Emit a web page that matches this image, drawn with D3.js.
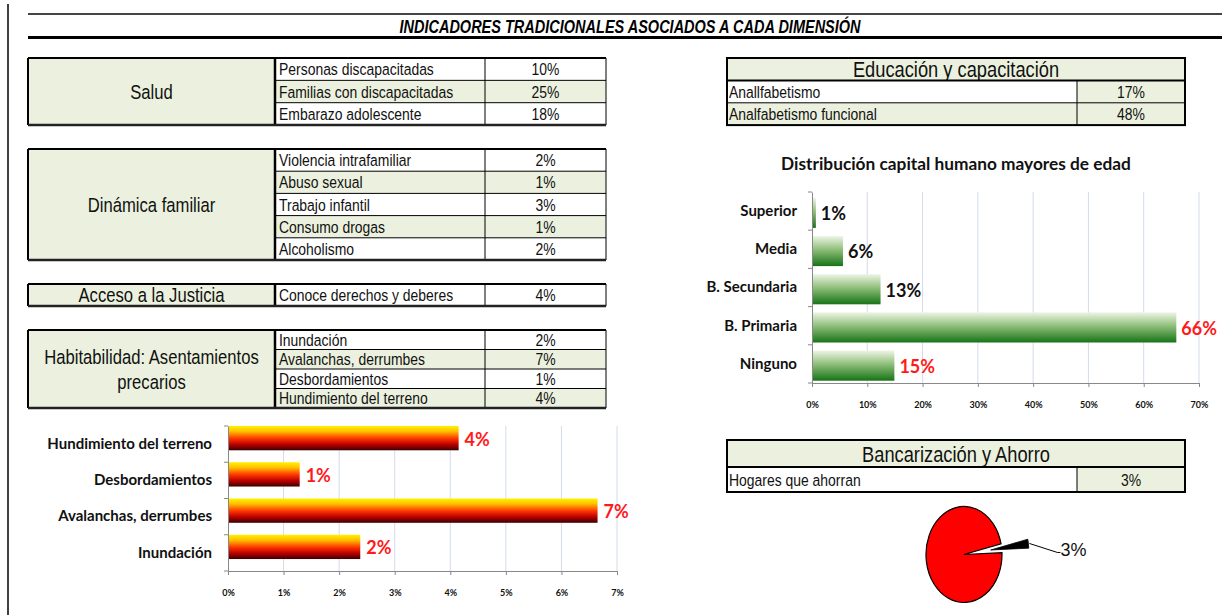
<!DOCTYPE html>
<html>
<head>
<meta charset="utf-8">
<script src="https://cdn.jsdelivr.net/npm/d3@7/dist/d3.min.js"></script>
<style>
  body { margin: 0; background: #fff; }
  svg { display: block; }
  .narrow { font-family: "Liberation Sans", Arial, sans-serif; }
  .cal { font-family: Lato, "Open Sans", sans-serif; }
</style>
</head>
<body>
<svg id="chart" width="1222" height="615"></svg>
<script>
// --- data ---
var title = "INDICADORES TRADICIONALES ASOCIADOS A CADA DIMENSIÓN";

var saludLabels = ["Personas discapacitadas", "Familias con  discapacitadas", "Embarazo adolescente"];
var saludValues = [10, 25, 18];

var dinamicaLabels = ["Violencia intrafamiliar", "Abuso sexual", "Trabajo infantil", "Consumo drogas", "Alcoholismo"];
var dinamicaValues = [2, 1, 3, 1, 2];

var justiciaLabels = ["Conoce derechos y deberes"];
var justiciaValues = [4];

var habitLabels = ["Inundación", "Avalanchas, derrumbes", "Desbordamientos", "Hundimiento del terreno"];
var habitValues = [2, 7, 1, 4];

var educLabels = ["Anallfabetismo", "Analfabetismo funcional"];
var educValues = [17, 48];

var ahorroLabels = ["Hogares que ahorran"];
var ahorroValues = [3];

var riskCategories = ["Hundimiento del terreno", "Desbordamientos", "Avalanchas, derrumbes", "Inundación"];
var riskShares = [0.0415, 0.0129, 0.0665, 0.0238];
var riskText = ["4%", "1%", "7%", "2%"];
var riskTicks = [0, 0.01, 0.02, 0.03, 0.04, 0.05, 0.06, 0.07];

var eduTitle = "Distribución capital humano mayores de edad";
var eduCategories = ["Superior", "Media", "B. Secundaria", "B. Primaria", "Ninguno"];
var eduShares = [0.007, 0.056, 0.124, 0.659, 0.149];
var eduText = ["1%", "6%", "13%", "66%", "15%"];
var eduTicks = [0, 0.1, 0.2, 0.3, 0.4, 0.5, 0.6, 0.7];

var savingParts = [3, 97];

var GREEN = "#ebf1de";
var NARROW = 0.82;   // no Arial Narrow installed, squeeze Liberation Sans instead
var svg = d3.select("#chart");

// condensed text helper
function ntext(g, x, y, str, size, anchor) {
    return g.append("text").attr("class", "narrow")
        .attr("transform", "translate(" + x + "," + y + ") scale(" + NARROW + ",1)")
        .attr("dy", "0.36em")
        .attr("text-anchor", anchor || "start")
        .attr("font-size", size)
        .attr("fill", "#111")
        .text(str);
}

// page frame
svg.append("line").attr("x1", 8).attr("x2", 8).attr("y1", 4).attr("y2", 615)
    .attr("stroke", "#000").attr("stroke-width", 1.5);
svg.append("line").attr("x1", 28).attr("x2", 1222).attr("y1", 14).attr("y2", 14)
    .attr("stroke", "#444").attr("stroke-width", 2);
svg.append("line").attr("x1", 28).attr("x2", 1222).attr("y1", 37.5).attr("y2", 37.5)
    .attr("stroke", "#000").attr("stroke-width", 3);
ntext(svg, 630, 27, title, 17.7, "middle")
    .attr("font-weight", "bold").attr("font-style", "italic").attr("fill", "#000");

/**
 * Left side table: category cell + item rows + value column.
 */
function sideTable(top, rowH, catLines, labels, values) {
    var x0 = 28, x1 = 275, x2 = 485, x3 = 606;
    var g = svg.append("g");
    var h = rowH * labels.length;

    g.append("rect").attr("x", x0).attr("y", top).attr("width", x1 - x0).attr("height", h)
        .attr("fill", GREEN);
    labels.forEach(function(l, i) {
        var y = top + i * rowH;
        g.append("rect").attr("x", x1).attr("y", y)
            .attr("width", x3 - x1).attr("height", rowH)
            .attr("fill", i % 2 ? GREEN : "#fff");
        g.append("line").attr("x1", x1).attr("x2", x3)
            .attr("y1", y).attr("y2", y)
            .attr("stroke", "#000").attr("stroke-width", 1);
        ntext(g, x1 + 4, y + rowH / 2, l, 17);
        ntext(g, (x2 + x3) / 2, y + rowH / 2, values[i] + "%", 17, "middle");
    });
    g.append("line").attr("x1", x2).attr("x2", x2).attr("y1", top).attr("y2", top + h)
        .attr("stroke", "#000").attr("stroke-width", 1);
    g.append("line").attr("x1", x3).attr("x2", x3).attr("y1", top).attr("y2", top + h)
        .attr("stroke", "#000").attr("stroke-width", 1);
    g.append("line").attr("x1", x1).attr("x2", x1).attr("y1", top).attr("y2", top + h)
        .attr("stroke", "#000").attr("stroke-width", 2.5);
    g.append("line").attr("x1", x0).attr("x2", x0).attr("y1", top).attr("y2", top + h)
        .attr("stroke", "#000").attr("stroke-width", 2);
    g.append("line").attr("x1", x0).attr("x2", x3).attr("y1", top).attr("y2", top)
        .attr("stroke", "#000").attr("stroke-width", 2);
    g.append("line").attr("x1", x0).attr("x2", x3).attr("y1", top + h).attr("y2", top + h)
        .attr("stroke", "#222").attr("stroke-width", 2.5);

    var lh = 25;
    var cy = top + h / 2 - (catLines.length - 1) * lh / 2;
    catLines.forEach(function(t, i) {
        ntext(g, (x0 + x1) / 2, cy + i * lh, t, 20.3, "middle");
    });
}

sideTable(58, 22.35, ["Salud"], saludLabels, saludValues);
sideTable(149, 22.2, ["Dinámica familiar"], dinamicaLabels, dinamicaValues);
sideTable(284, 22, ["Acceso a la Justicia"], justiciaLabels, justiciaValues);
sideTable(330, 19.5, ["Habitabilidad: Asentamientos", "precarios"], habitLabels, habitValues);

/**
 * Right side table: header row + item rows, value column always tinted.
 */
function headTable(top, headH, rowH, head, labels, values) {
    var x0 = 727, x2 = 1077, x3 = 1185;
    var g = svg.append("g");
    var h = headH + rowH * labels.length;
    g.append("rect").attr("x", x0).attr("y", top).attr("width", x3 - x0).attr("height", headH)
        .attr("fill", GREEN);
    ntext(g, (x0 + x3) / 2, top + headH / 2, head, 22.3, "middle");
    labels.forEach(function(l, i) {
        var y = top + headH + i * rowH;
        g.append("rect").attr("x", x0).attr("y", y).attr("width", x2 - x0).attr("height", rowH)
            .attr("fill", i % 2 ? GREEN : "#fff");
        g.append("rect").attr("x", x2).attr("y", y).attr("width", x3 - x2).attr("height", rowH)
            .attr("fill", GREEN);
        g.append("line").attr("x1", x0).attr("x2", x3).attr("y1", y).attr("y2", y)
            .attr("stroke", "#000").attr("stroke-width", i == 0 ? 2 : 1);
        ntext(g, x0 + 2, y + rowH / 2, l, 17);
        ntext(g, (x2 + x3) / 2, y + rowH / 2, values[i] + "%", 17, "middle");
    });
    g.append("line").attr("x1", x2).attr("x2", x2).attr("y1", top + headH).attr("y2", top + h)
        .attr("stroke", "#000").attr("stroke-width", 1);
    g.append("rect").attr("x", x0).attr("y", top).attr("width", x3 - x0).attr("height", h)
        .attr("fill", "none").attr("stroke", "#000").attr("stroke-width", 2);
}

headTable(58, 22.5, 22.3, "Educación y capacitación", educLabels, educValues);
headTable(440, 27, 25, "Bancarización y Ahorro", ahorroLabels, ahorroValues);

// gradients
var defs = svg.append("defs");
var fire = defs.append("linearGradient").attr("id", "fire").attr("x1", 0).attr("x2", 0).attr("y1", 0).attr("y2", 1);
[["0%", "#fff200"], ["22%", "#ffc000"], ["50%", "#ff3c00"], ["75%", "#c00000"], ["100%", "#3c0000"]]
    .forEach(function(s) { fire.append("stop").attr("offset", s[0]).attr("stop-color", s[1]); });
var leaf = defs.append("linearGradient").attr("id", "leaf").attr("x1", 0).attr("x2", 0).attr("y1", 0).attr("y2", 1);
[["0%", "#eef5e6"], ["45%", "#8fbf7a"], ["100%", "#177317"]]
    .forEach(function(s) { leaf.append("stop").attr("offset", s[0]).attr("stop-color", s[1]); });

/**
 * Horizontal bar chart in the Excel look.
 */
function barChart(opt) {
    var g = svg.append("g");
    var x = d3.scaleLinear().domain([0, opt.max]).range([opt.left, opt.right]);
    var y = d3.scaleBand().domain(opt.cats).range([opt.top, opt.bottom]);

    g.selectAll("line.grid").data(opt.ticks.slice(1)).enter().append("line")
        .attr("class", "grid")
        .attr("x1", d => x(d)).attr("x2", d => x(d))
        .attr("y1", opt.top).attr("y2", opt.bottom)
        .attr("stroke", "#d3dbea").attr("stroke-width", 1);

    g.selectAll("rect.bar").data(opt.values).enter().append("rect")
        .attr("class", "bar")
        .attr("x", x(0))
        .attr("y", (d, i) => y(opt.cats[i]) + y.bandwidth() * opt.inset)
        .attr("width", d => x(d) - x(0))
        .attr("height", y.bandwidth() * opt.barFrac)
        .attr("fill", "url(#" + opt.grad + ")");

    g.selectAll("text.val").data(opt.values).enter().append("text")
        .attr("class", "cal val")
        .attr("x", d => x(d) + opt.gap)
        .attr("y", (d, i) => y(opt.cats[i]) + y.bandwidth() * (opt.inset + opt.barFrac / 2) + 1)
        .attr("dy", "0.36em")
        .attr("font-size", 18).attr("font-weight", "bold")
        .attr("fill", d => opt.color(d))
        .text((d, i) => opt.text[i]);

    var ax = g.append("g").attr("transform", "translate(0," + opt.bottom + ")")
        .call(d3.axisBottom(x).tickValues(opt.ticks).tickFormat(d3.format(".0%")).tickSize(4));
    ax.select(".domain").attr("stroke", "#888");
    ax.selectAll(".tick line").attr("stroke", "#888");
    ax.selectAll("text").attr("class", "cal").attr("font-size", 9).attr("font-weight", "bold")
        .attr("fill", "#111").attr("dy", "1.95em");

    var ay = g.append("g").attr("transform", "translate(" + opt.left + ",0)")
        .call(d3.axisLeft(y).tickSize(0).tickPadding(opt.pad));
    ay.select(".domain").attr("stroke", "#888");
    ay.selectAll("text").attr("class", "cal").attr("font-size", 15).attr("font-weight", "bold")
        .attr("fill", "#111");
    // category separator ticks
    g.selectAll("line.cat").data(opt.cats.concat([null])).enter().append("line")
        .attr("class", "cat")
        .attr("x1", opt.left - 4).attr("x2", opt.left)
        .attr("y1", (d, i) => opt.top + i * y.bandwidth())
        .attr("y2", (d, i) => opt.top + i * y.bandwidth())
        .attr("stroke", "#888");
}

barChart({
    cats: riskCategories, values: riskShares, text: riskText, ticks: riskTicks, max: 0.07,
    left: 228, right: 617, top: 426, bottom: 571,
    inset: 0.0, barFrac: 0.67, gap: 6, pad: 16, grad: "fire",
    color: function() { return "#ff1a1a"; }
});

svg.append("text").attr("class", "cal")
    .attr("x", 956).attr("y", 170).attr("text-anchor", "middle")
    .attr("font-size", 17.3).attr("font-weight", "bold").attr("fill", "#111")
    .text(eduTitle);

barChart({
    cats: eduCategories, values: eduShares, text: eduText, ticks: eduTicks, max: 0.7,
    left: 812, right: 1199, top: 192, bottom: 383,
    inset: 0.15, barFrac: 0.79, gap: 5, pad: 15, grad: "leaf",
    color: function(d) { return d > 0.14 ? "#ff1a1a" : "#111"; }
});

// savings pie, small slice exploded outward
var cx = 964, cy = 554.5, rx = 38, ry = 48;
var pie = d3.pie().sort(null)
    .startAngle(77 * Math.PI / 180).endAngle((77 + 360) * Math.PI / 180);
var slices = pie(savingParts);
var mid = (slices[0].startAngle + slices[0].endAngle) / 2;
var boom = 27;
var pg = svg.append("g").attr("transform", "translate(" + cx + "," + cy + ") scale(1," + (ry / rx) + ")");
var arc = d3.arc().innerRadius(0).outerRadius(rx);
pg.append("path").attr("d", arc(slices[1]))
    .attr("fill", "#ff0000").attr("stroke", "#000").attr("stroke-width", 1.2)
    .attr("vector-effect", "non-scaling-stroke");
pg.append("path").attr("d", arc(slices[0]))
    .attr("transform", "translate(" + Math.sin(mid) * boom + "," + (-Math.cos(mid) * boom) + ")")
    .attr("fill", "#000").attr("stroke", "#000").attr("stroke-width", 0.8)
    .attr("vector-effect", "non-scaling-stroke");

var tipR = rx + boom + 1;
var tipX = cx + Math.sin(mid) * tipR, tipY = cy - Math.cos(mid) * tipR * ry / rx;
svg.append("polyline")
    .attr("points", [[tipX, tipY], [tipX + 28, tipY + 9], [tipX + 31, tipY + 9]].join(" "))
    .attr("fill", "none").attr("stroke", "#000").attr("stroke-width", 1);
svg.append("text").attr("class", "narrow")
    .attr("x", tipX + 31).attr("y", tipY + 9).attr("dy", "0.2em")
    .attr("font-size", 18).attr("fill", "#111")
    .text(savingParts[0] + "%");
</script>
</body>
</html>
